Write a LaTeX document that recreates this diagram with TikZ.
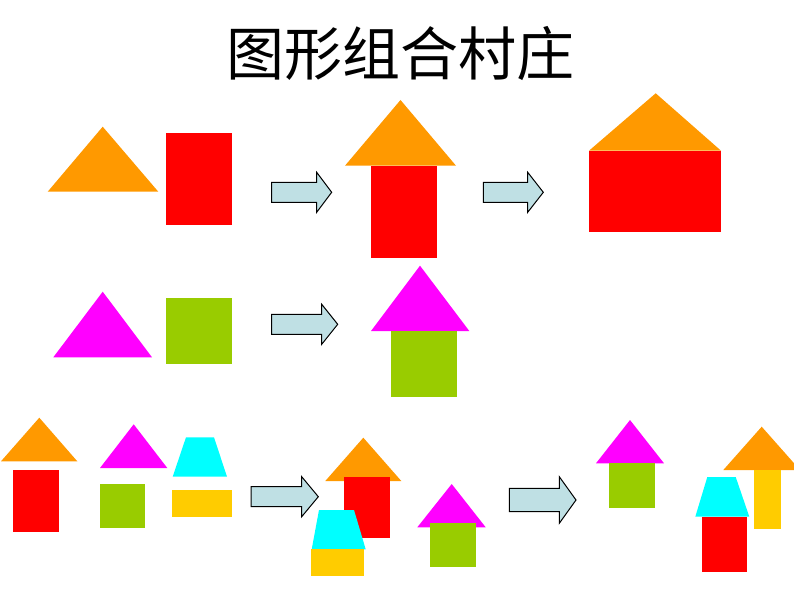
\documentclass[tikz,border=0pt]{standalone}
\usepackage{fontspec}
\newfontfamily\cjk{Noto Sans CJK SC}
\definecolor{roof}{HTML}{FF9900}
\definecolor{wall}{HTML}{FF0000}
\definecolor{pink}{HTML}{FF00FF}
\definecolor{leaf}{HTML}{99CC00}
\definecolor{aqua}{HTML}{00FFFF}
\definecolor{gold}{HTML}{FFCC00}
\definecolor{pale}{HTML}{BFE0E4}
\tikzset{
  arrowbox/.style={draw=black, fill=pale, line width=1pt, line join=miter},
}
% block arrow: left x, shaft top y, shaft bottom y, head base x, head top y, head bottom y, tip x
\newcommand{\blockarrow}[7]{%
  \draw[arrowbox] (#1,#2) -- (#4,#2) -- (#4,#5) -- (#7,{(#5+#6)/2}) -- (#4,#6) -- (#4,#3) -- (#1,#3) -- cycle;}

\begin{document}
\begin{tikzpicture}[x=1pt, y=-1pt]
    \useasboundingbox[fill=white] (0,0) rectangle (794,596);
    \node[font=\cjk\fontsize{58}{58}\selectfont] (title) at (400,54) {图形组合村庄};

    % row 1
    \fill[roof] (47.7,191.7) -- (102.7,126.7) -- (158.3,191.7) -- cycle;
    \fill[wall] (166,132.7) rectangle (231.7,225);
    \blockarrow{271.7}{182.3}{202.3}{316.7}{172.3}{212.3}{331.7}
    \fill[roof] (345,165.7) -- (400.5,100) -- (456,165.7) -- cycle;
    \fill[wall] (371,165.7) rectangle (436.7,258.3);
    \blockarrow{483.3}{182.3}{202.3}{527.7}{172.3}{212.3}{543.3}
    \fill[roof] (589,150.7) -- (655.7,93.3) -- (721,150.7) -- cycle;
    \fill[wall] (589,150.7) rectangle (721,231.7);

    % row 2
    \fill[pink] (53.3,357.3) -- (102.7,291.7) -- (152,357.3) -- cycle;
    \fill[leaf] (166,298.3) rectangle (231.7,364);
    \blockarrow{271.7}{314.3}{334.3}{321.7}{304.3}{344.3}{337.7}
    \fill[pink] (371,331) -- (420,265.7) -- (469.3,331) -- cycle;
    \fill[leaf] (391,331) rectangle (456.7,397.3);

    % row 3
    \fill[roof] (1,461.3) -- (39.3,417.7) -- (77.3,461.3) -- cycle;
    \fill[wall] (13.3,470.3) rectangle (59.3,532);
    \fill[pink] (100,468) -- (133.7,424.3) -- (167.3,468) -- cycle;
    \fill[leaf] (100,484) rectangle (145,527.7);
    \fill[aqua] (172.7,476.7) -- (186,437.3) -- (214,437.3) -- (227,476.7) -- cycle;
    \fill[gold] (172.3,490) rectangle (232,516.7);
    \blockarrow{251}{486.7}{506.7}{301.7}{476.7}{516.7}{318.3}
    \fill[roof] (325.3,481) -- (363.3,437.7) -- (401.3,481) -- cycle;
    \fill[wall] (344,477) rectangle (390,538.3);
    \fill[aqua] (311.7,549.3) -- (319,510) -- (354,510) -- (365.7,549.3) -- cycle;
    \fill[gold] (311,549.3) rectangle (364,575.7);
    \fill[pink] (417.3,527.3) -- (451.7,484) -- (485.7,527.3) -- cycle;
    \fill[leaf] (430,523.3) rectangle (476,567.3);
    \blockarrow{509.3}{488.3}{511.7}{559.3}{476.7}{523.3}{576}
    \fill[pink] (596,463.3) -- (630,420) -- (664,463.3) -- cycle;
    \fill[leaf] (609,463.3) rectangle (654.7,507.7);
    \fill[roof] (723.3,470) -- (761.7,426.7) -- (800,470) -- cycle;
    \fill[gold] (754,470) rectangle (780.7,529.3);
    \fill[aqua] (695.3,516.7) -- (707.3,477) -- (735.7,477) -- (749.3,516.7) -- cycle;
    \fill[wall] (701.7,516.7) rectangle (747.3,571.7);
\end{tikzpicture}
\end{document}
